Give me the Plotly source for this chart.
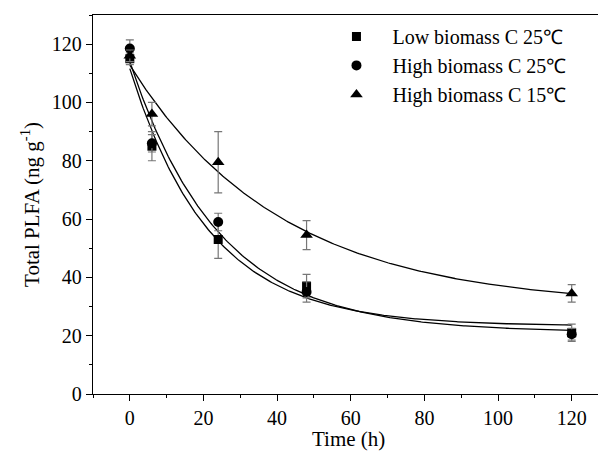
import numpy as np
import plotly.graph_objects as go

time_h = [0, 6, 24, 48, 120]
series_names = ["Low biomass C 25℃", "High biomass C 25℃", "High biomass C 15℃"]
low25 = [115, 85, 53, 37, 21]
low25_err = [2, 5, 6.5, 4, 3]
high25 = [118.5, 86, 59, 35, 20.5]
high25_err = [3, 3, 3, 3.5, 2]
high15 = [116, 96, 79.5, 54.5, 34.5]
high15_err = [2, 4, 10.5, 5, 3]
symbols = ["square", "circle", "triangle-up"]
sizes = [9, 10, 11]

x_ticks = [0, 20, 40, 60, 80, 100, 120]
y_ticks = [0, 20, 40, 60, 80, 100, 120]
x_title = "Time (h)"
y_title = "Total PLFA (ng g<sup>-1</sup>)"


def fit_exp(t, y):
    t = np.asarray(t, float)
    y = np.asarray(y, float)
    best = None
    for k in np.linspace(0.005, 0.3, 3000):
        X = np.column_stack([np.ones_like(t), np.exp(-k * t)])
        coef, res, *_ = np.linalg.lstsq(X, y, rcond=None)
        r = np.sum((X @ coef - y) ** 2)
        if best is None or r < best[0]:
            best = (r, k, coef)
    return best[1], best[2]


fig = go.Figure()
tt = np.linspace(0, 120, 300)
for name, vals, errs, sym, sz in zip(series_names, [low25, high25, high15],
                                     [low25_err, high25_err, high15_err], symbols, sizes):
    k, (c, a) = fit_exp(time_h, vals)
    fig.add_trace(go.Scatter(x=tt, y=c + a * np.exp(-k * tt), mode="lines",
                             line=dict(color="black", width=1.3), showlegend=False,
                             hoverinfo="skip"))
for name, vals, errs, sym, sz in zip(series_names, [low25, high25, high15],
                                     [low25_err, high25_err, high15_err], symbols, sizes):
    fig.add_trace(go.Scatter(x=time_h, y=vals, mode="markers", name=name,
                             marker=dict(symbol=sym, size=sz, color="black"),
                             error_y=dict(type="data", array=errs, visible=True,
                                          color="#777777", thickness=1.2, width=4)))

axis_common = dict(showline=True, linecolor="black", linewidth=1.3, mirror=True,
                   ticks="outside", ticklen=6, tickwidth=1.3, tickcolor="black",
                   showgrid=False, zeroline=False,
                   tickfont=dict(family="Liberation Serif", size=20, color="black"),
                   minor=dict(ticks="outside", ticklen=3, tickwidth=1.2, tickcolor="black"))

fig.update_xaxes(range=[-10, 128.5], tickvals=x_ticks, **axis_common)
fig.update_xaxes(minor=dict(tickvals=[-10, 10, 30, 50, 70, 90, 110]))
fig.update_yaxes(range=[0, 130], tickvals=y_ticks,
                 title=dict(text=y_title,
                            font=dict(family="Liberation Serif", size=21, color="black"), standoff=6),
                 **axis_common)
fig.update_yaxes(minor=dict(tickvals=[10, 30, 50, 70, 90, 110, 130]))

fig.add_annotation(text=x_title, xref="paper", yref="paper", x=0.5, y=-0.12,
                   xanchor="center", yanchor="middle", showarrow=False,
                   font=dict(family="Liberation Serif", size=21, color="black"))

fig.update_layout(width=606, height=466, margin=dict(l=85, r=11, t=7, b=80, autoexpand=False),
                  plot_bgcolor="white", paper_bgcolor="white",
                  font=dict(family="Liberation Serif", color="black"),
                  legend=dict(x=0.446, y=0.995, xanchor="left", yanchor="top",
                              bgcolor="rgba(0,0,0,0)", itemwidth=62,
                              font=dict(family="Liberation Serif", size=20, color="black"),
                              tracegroupgap=0))
fig.write_html("out.html")
